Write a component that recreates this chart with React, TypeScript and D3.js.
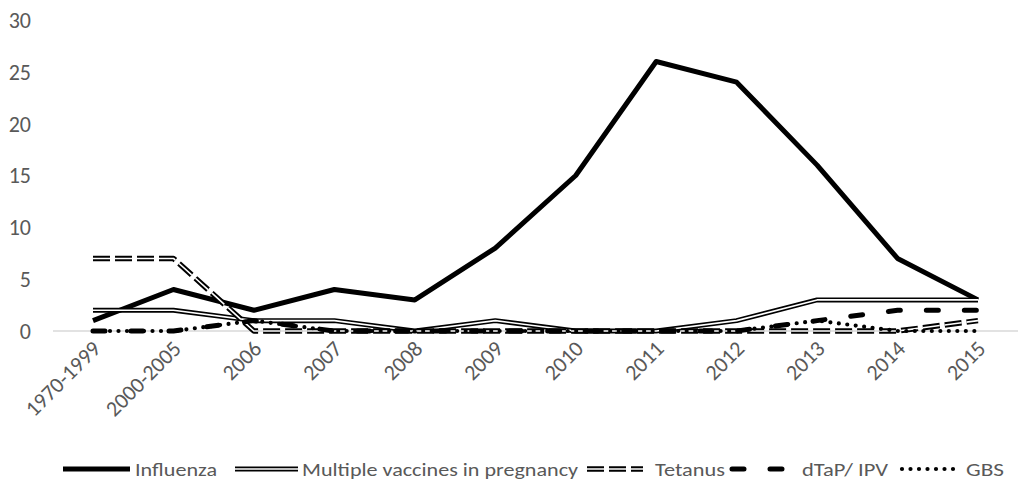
import { useEffect, useRef } from 'react';
import * as d3 from 'd3';

const categories = ['1970-1999', '2000-2005', '2006', '2007', '2008', '2009', '2010', '2011', '2012', '2013', '2014', '2015'];
const influenza = [1, 4, 2, 4, 3, 8, 15, 26, 24, 16, 7, 3];
const multipleVaccines = [2, 2, 1, 1, 0, 1, 0, 0, 1, 3, 3, 3];
const tetanus = [7, 7, 0, 0, 0, 0, 0, 0, 0, 0, 0, 1];
const dtapIpv = [0, 0, 1, 0, 0, 0, 0, 0, 0, 1, 2, 2];
const gbs = [0, 0, 1, 0, 0, 0, 0, 0, 0, 1, 0, 0];
const yTicks = [0, 5, 10, 15, 20, 25, 30];

const FONT = "Carlito, Lato, 'Open Sans', sans-serif";
const GRAY = '#595959';

type Style = 'solid' | 'double' | 'doubleDash' | 'dash' | 'dot';

const series: { name: string; values: number[]; style: Style }[] = [
  { name: 'Influenza', values: influenza, style: 'solid' },
  { name: 'Multiple vaccines in pregnancy', values: multipleVaccines, style: 'double' },
  { name: 'Tetanus', values: tetanus, style: 'doubleDash' },
  { name: 'dTaP/ IPV', values: dtapIpv, style: 'dash' },
  { name: 'GBS', values: gbs, style: 'dot' },
];

// draws a stroked path in the given style into a group
function drawStyled(g: d3.Selection<SVGGElement, unknown, null, undefined>, d: string, style: Style) {
  const add = () => g.append('path').attr('d', d).attr('fill', 'none').attr('stroke-linejoin', 'round');
  if (style === 'solid') {
    add().attr('stroke', '#000').attr('stroke-width', 5);
  } else if (style === 'double') {
    add().attr('stroke', '#000').attr('stroke-width', 5);
    add().attr('stroke', '#fff').attr('stroke-width', 1.6);
  } else if (style === 'doubleDash') {
    add().attr('stroke', '#000').attr('stroke-width', 5.5).attr('stroke-dasharray', '17 5');
    add().attr('stroke', '#fff').attr('stroke-width', 1.6).attr('stroke-dasharray', '17 5');
  } else if (style === 'dash') {
    add().attr('stroke', '#000').attr('stroke-width', 5).attr('stroke-dasharray', '12 26').attr('stroke-linecap', 'round');
  } else {
    add().attr('stroke', '#000').attr('stroke-width', 4.2).attr('stroke-dasharray', '0 8.5').attr('stroke-linecap', 'round');
  }
}

const legendItems = [
  { x1: 63, x2: 130, tx: 135, tw: 82 },
  { x1: 235, x2: 298, tx: 302, tw: 276 },
  { x1: 587, x2: 643, tx: 655, tw: 70 },
  { x1: 732, x2: 790, tx: 802, tw: 86 },
  { x1: 902, x2: 956, tx: 966, tw: 38 },
];

export default function App() {
  const svgRef = useRef<SVGSVGElement>(null);

  useEffect(() => {
    if (!svgRef.current) return;
    const svg = d3.select(svgRef.current);
    svg.selectAll('*').remove();

    const x = d3.scalePoint<string>().domain(categories).range([93, 978]);
    const y = d3.scaleLinear().domain([0, 30]).range([331, 20]);

    // zero line
    svg.append('line')
      .attr('x1', 53).attr('x2', 1018)
      .attr('y1', y(0)).attr('y2', y(0))
      .attr('stroke', '#d9d9d9').attr('stroke-width', 1.3);

    // y labels
    svg.append('g').selectAll('text').data(yTicks).enter().append('text')
      .attr('x', 31).attr('y', d => y(d)).attr('dy', '0.36em')
      .attr('text-anchor', 'end')
      .attr('font-family', FONT).attr('font-size', 22).attr('fill', GRAY)
      .text(d => d);

    // x labels
    svg.append('g').selectAll('text').data(categories).enter().append('text')
      .attr('transform', d => `translate(${(x(d) as number) + 9},${350}) rotate(-45)`)
      .attr('text-anchor', 'end')
      .attr('font-family', FONT).attr('font-size', 22).attr('fill', GRAY)
      .text(d => d);

    const line = d3.line<number>()
      .x((_, i) => x(categories[i]) as number)
      .y(v => y(v));

    series.forEach(s => {
      const g = svg.append('g');
      drawStyled(g, line(s.values) as string, s.style);
    });

    // legend
    const legendY = 469;
    series.forEach((s, i) => {
      const it = legendItems[i];
      const g = svg.append('g');
      drawStyled(g, `M${it.x1},${legendY}L${it.x2},${legendY}`, s.style);
      g.append('text')
        .attr('x', it.tx).attr('y', legendY).attr('dy', '0.35em')
        .attr('font-family', FONT).attr('font-size', 19).attr('fill', GRAY)
        .attr('textLength', it.tw).attr('lengthAdjust', 'spacingAndGlyphs')
        .text(s.name);
    });
  }, []);

  return (
    <div style={{ position: 'fixed', left: 0, top: 0 }}>
      <svg ref={svgRef} width={1022} height={486} style={{ display: 'block', background: '#fff' }} />
    </div>
  );
}
